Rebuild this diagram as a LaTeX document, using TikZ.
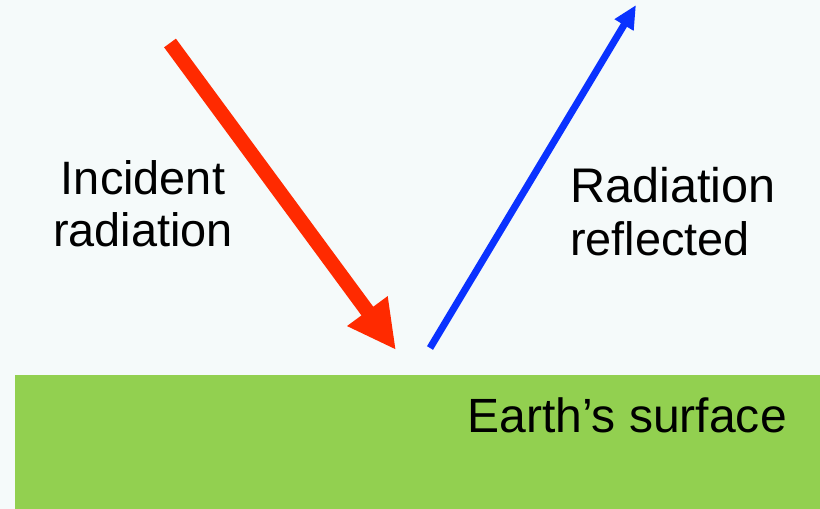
\documentclass[tikz,border=0pt]{standalone}
\usepackage{fontspec}
\setmainfont{Liberation Sans}
\usetikzlibrary{positioning,arrows.meta}
\definecolor{skybg}{HTML}{F5FAFA}
\definecolor{ground}{HTML}{92D050}
\definecolor{incred}{HTML}{FF2A00}
\definecolor{refblue}{HTML}{0A32FF}

\begin{document}
\begin{tikzpicture}[
  x=0.03cm, y=-0.03cm,
  font=\fontsize{40pt}{45pt}\selectfont,
  lbl/.style={inner sep=0pt, text=black},
  incarr/.style={incred, line width=12.5pt, -{Triangle[width=1.4cm, length=1.45cm]}},
  refarr/.style={refblue, line width=6pt, -{Triangle[width=0.62cm, length=0.7cm]}}
]
% background and ground
\fill[skybg] (0,0) rectangle (820,509);
\fill[ground] (15,375) rectangle (820,509);
\useasboundingbox (0,0) rectangle (820,509);

% labels
\node[lbl, align=center, anchor=north] (inc) at (143,160) {Incident\\radiation};
\node[lbl, align=left, anchor=north west] (refl) at (570,167) {\fontsize{41.5pt}{46.5pt}\selectfont Radiation\\reflected};
\node[lbl, anchor=base east] (earth) at (787,432) {\fontsize{41pt}{46pt}\selectfont Earth’s surface};

% rays
\coordinate (instart) at (170,43);
\coordinate (inhit) at (396,350);
\coordinate (outstart) at (430,348);
\coordinate (outend) at (636,5);
\draw[incarr] (instart) -- (inhit);
\draw[refarr] (outstart) -- (outend);
\end{tikzpicture}
\end{document}
